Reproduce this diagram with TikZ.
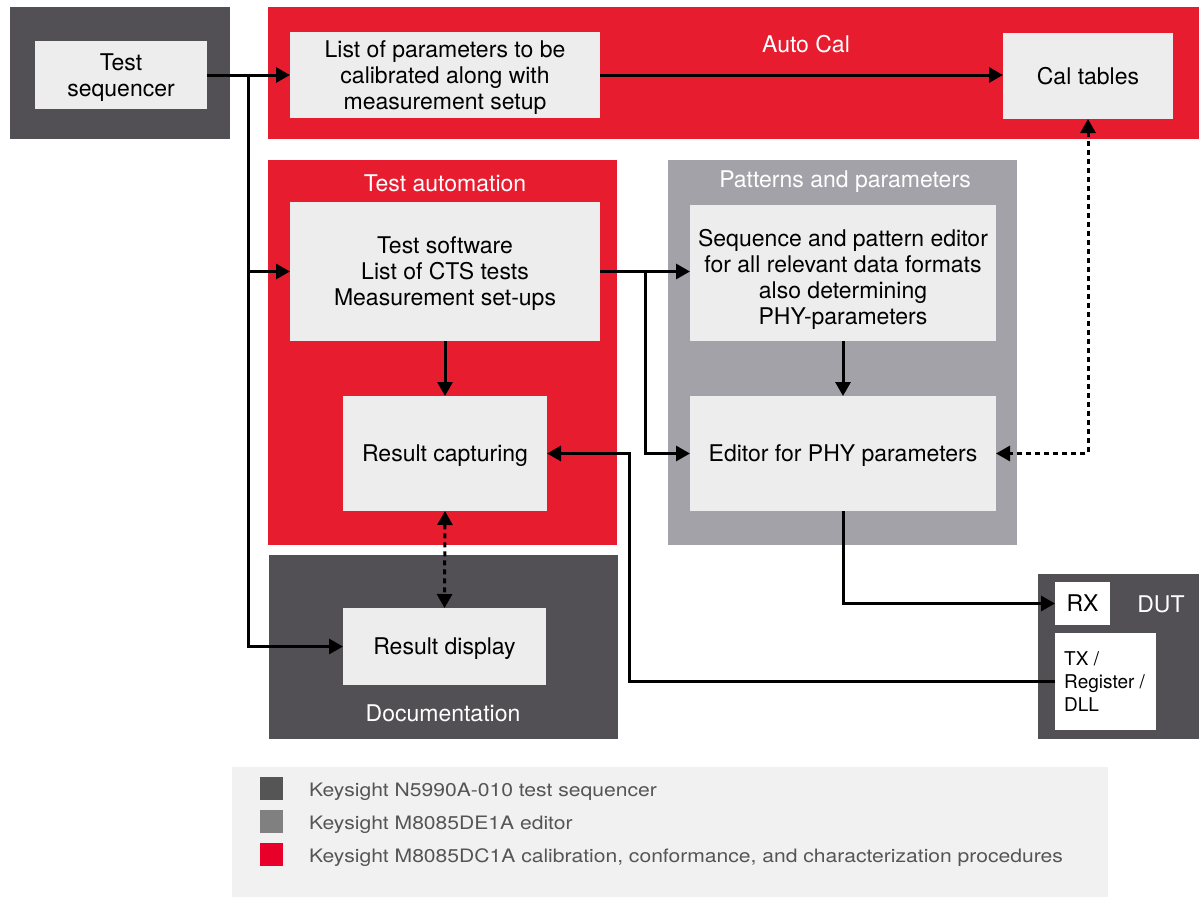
\documentclass[tikz,border=0pt]{standalone}
\usepackage{fontspec}
\setmainfont{TeX Gyre Heros}
\newfontfamily\legfont[FakeStretch=1.14]{TeX Gyre Heros}
\usetikzlibrary{arrows.meta}
\definecolor{dkbox}{HTML}{524F55}
\definecolor{rdbox}{HTML}{E71D2F}
\definecolor{gybox}{HTML}{A3A2A9}
\definecolor{inbox}{HTML}{EDEDED}
\definecolor{legbg}{HTML}{F1F1F1}
\definecolor{legtxt}{HTML}{555555}
\definecolor{sqdark}{HTML}{555555}
\definecolor{sqgray}{HTML}{808080}
\definecolor{sqred}{HTML}{E8002A}
\newcommand\bxfont{\fontsize{23}{26}\selectfont}
\tikzset{
  frame/.style={inner sep=0pt, outer sep=0pt},
  inner/.style={frame, fill=inbox, align=center, font=\bxfont, text=black, text depth=0pt},
  hdr/.style={inner sep=0pt, font=\bxfont, text=white},
  conn/.style={line width=3pt, -{Triangle[length=14pt,width=15pt]}},
  dconn/.style={line width=3pt, dash pattern=on 5pt off 4pt, {Triangle[length=14pt,width=15pt]}-{Triangle[length=14pt,width=15pt]}},
  legsq/.style={frame, minimum width=23pt, minimum height=23pt},
  legtext/.style={inner sep=0pt, anchor=west, font=\legfont\fontsize{18.5}{22}\selectfont, text=legtxt}
}
\begin{document}
\begin{tikzpicture}[x=1pt,y=-1pt]
\useasboundingbox (0,0) rectangle (1199,897);
% group frames
\node[frame, fill=dkbox, minimum width=220pt, minimum height=132pt] (seqouter) at (120,73) {};
\node[frame, fill=rdbox, minimum width=931pt, minimum height=132pt] (autocal) at (733.5,73) {};
\node[frame, fill=rdbox, minimum width=349pt, minimum height=385pt] (testauto) at (442.5,352.5) {};
\node[frame, fill=gybox, minimum width=349pt, minimum height=385pt] (patterns) at (842.5,352.5) {};
\node[frame, fill=dkbox, minimum width=349pt, minimum height=184pt] (docu) at (443.5,647) {};
\node[frame, fill=dkbox, minimum width=161pt, minimum height=165pt] (dut) at (1118.5,656.5) {};
% headers
\node[hdr] (lautocal) at (806,44) {Auto Cal};
\node[hdr] (ltestauto) at (445,183) {Test automation};
\node[hdr] (lpatterns) at (845,182) {Patterns and parameters};
\node[hdr] (ldocu) at (443,713) {Documentation};
\node[hdr] (ldut) at (1161,604) {DUT};
% inner boxes
\node[inner, minimum width=172pt, minimum height=68pt] (seq) at (121,75) {Test\\sequencer};
\node[inner, minimum width=310pt, minimum height=86pt] (list) at (445,75) {List of parameters to be\\calibrated along with\\measurement setup};
\node[inner, minimum width=170pt, minimum height=86pt] (caltab) at (1088,76) {Cal tables};
\node[inner, minimum width=310pt, minimum height=139pt] (testsw) at (445,271.5) {Test software\\List of CTS tests\\Measurement set-ups};
\node[inner, minimum width=204pt, minimum height=115pt] (rescap) at (445,453.5) {Result capturing};
\node[inner, minimum width=306pt, minimum height=136pt] (seqed) at (843,273) {};
\node[inner, fill=none] (seqedtext) at (843,276.5) {Sequence and pattern editor\\for all relevant data formats\\also determining\\PHY-parameters};
\node[inner, minimum width=306pt, minimum height=115pt] (edphy) at (843,453.5) {Editor for PHY parameters};
\node[inner, minimum width=203pt, minimum height=77pt] (resdisp) at (444.5,646.5) {Result display};
\node[frame, fill=white, minimum width=55pt, minimum height=43pt, font=\bxfont, text depth=0pt] (rx) at (1082.5,603.5) {RX};
\node[frame, fill=white, minimum width=101pt, minimum height=97pt] (tx) at (1105.5,681.5) {};
\node[inner sep=0pt, anchor=west, align=left, font=\fontsize{19}{23}\selectfont] (txtext) at (1064,682) {TX /\\Register /\\DLL};
% connectors
\coordinate (j1) at (248,75);
\coordinate (j2) at (645,271.5);
\coordinate (j3) at (629,682);
\draw[conn] (seq.east |- list.west) -- (list.west);
\draw[conn] (list.east) -- (list.east -| caltab.west);
\draw[conn] (j1) |- (resdisp.west);
\draw[conn] (j1 |- testsw.west) -- (testsw.west);
\draw[conn] (testsw.south) -- (rescap.north);
\draw[conn] (testsw.east) -- (testsw.east -| seqed.west);
\draw[conn] (j2) |- (edphy.west);
\draw[conn] (seqed.south) -- (edphy.north);
\draw[dconn] (caltab.south) |- (edphy.east);
\draw[dconn] (rescap.south) -- (resdisp.north);
\draw[conn] (edphy.south) |- (rx.west);
\draw[conn] (tx.west) -| (j3 |- rescap.east) -- (rescap.east);
% legend
\node[frame, fill=legbg, minimum width=876pt, minimum height=130pt] (legend) at (670,832) {};
\node[legsq, fill=sqdark] (sq1) at (271.5,788.5) {};
\node[legsq, fill=sqgray] (sq2) at (271.5,821.5) {};
\node[legsq, fill=sqred] (sq3) at (271.5,854.5) {};
\node[legtext] (lt1) at (309,792) {Keysight N5990A-010 test sequencer};
\node[legtext] (lt2) at (309,825) {Keysight M8085DE1A editor};
\node[legtext] (lt3) at (309,858) {Keysight M8085DC1A calibration, conformance, and characterization procedures};
\end{tikzpicture}
\end{document}
